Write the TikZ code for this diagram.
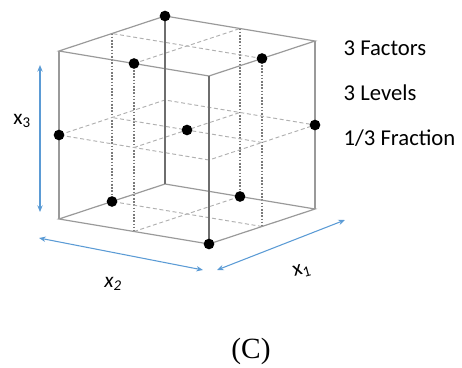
\documentclass[tikz,border=0pt]{standalone}
\usepackage{fontspec}
\setmainfont{Liberation Serif}
\newfontfamily\calibri{Carlito}
\usetikzlibrary{calc,arrows.meta}
\definecolor{EdgeGray}{HTML}{9A9A9A}
\definecolor{FrontGray}{HTML}{6E6E6E}
\definecolor{GridGray}{HTML}{B0B0B0}
\definecolor{PostGray}{HTML}{7A7A7A}
\definecolor{AxisBlue}{HTML}{5B9BD5}

\begin{document}
\begin{tikzpicture}[x=0.75pt,y=-0.75pt,
    edge/.style={EdgeGray, line width=0.9pt},
    gridline/.style={GridGray, dashed, dash pattern=on 3pt off 2pt, line width=0.7pt},
    postline/.style={PostGray, dash pattern=on 1.2pt off 1.2pt, line width=0.8pt},
    run/.style={circle, fill=black, inner sep=0pt, minimum size=8pt},
    axis/.style={AxisBlue, line width=0.8pt, {Stealth[length=5pt,width=4pt]}-{Stealth[length=5pt,width=4pt]}},
    note/.style={anchor=west, font=\calibri\fontsize{17}{19}\selectfont}]
    % =========================================
    % 1. 画布与立方体顶点
    % =========================================
    \useasboundingbox (0,0) rectangle (462,368);

    % 底面四角
    \coordinate (FB) at (209,244);
    \coordinate (LB) at (59,219);
    \coordinate (RB) at (315,209);
    \coordinate (BB) at (165,184);
    % 顶面四角
    \coordinate (FT) at ($(FB)+(0,-168)$);
    \coordinate (LT) at ($(LB)+(0,-168)$);
    \coordinate (RT) at ($(RB)+(0,-168)$);
    \coordinate (BT) at ($(BB)+(0,-168)$);
    % 中间层
    \coordinate (FM) at ($(FB)!0.5!(FT)$);
    \coordinate (LM) at ($(LB)!0.5!(LT)$);
    \coordinate (RM) at ($(RB)!0.5!(RT)$);
    \coordinate (BM) at ($(BB)!0.5!(BT)$);

    % 各层棱中点 (T=顶, M=中, B=底)
    \foreach \lv in {T,M,B} {
        \coordinate (\lv FL) at ($(F\lv)!0.5!(L\lv)$);
        \coordinate (\lv FR) at ($(F\lv)!0.5!(R\lv)$);
        \coordinate (\lv BL) at ($(B\lv)!0.5!(L\lv)$);
        \coordinate (\lv BR) at ($(B\lv)!0.5!(R\lv)$);
    }
    \coordinate (Center) at ($(MFL)!0.5!(MBR)$);

    % =========================================
    % 2. 内部虚线网格
    % =========================================
    % 竖直点线
    \draw[postline] (TFL) -- (BFL);
    \draw[postline] (TFR) -- (BFR);
    \draw[postline] (TBL) -- (BBL);
    \draw[postline] (TBR) -- (BBR);

    % 三层的十字线
    \foreach \lv in {T,M,B} {
        \draw[gridline] (\lv FL) -- (\lv BR);
        \draw[gridline] (\lv FR) -- (\lv BL);
    }
    % 中间层外框
    \draw[gridline] (FM) -- (LM) -- (BM) -- (RM) -- cycle;

    % =========================================
    % 3. 立方体棱
    % =========================================
    \draw[edge] (FT) -- (LT) -- (BT) -- (RT) -- cycle;
    \draw[edge] (FB) -- (LB) -- (BB) -- (RB) -- cycle;
    \draw[edge] (LB) -- (LT);
    \draw[edge] (RB) -- (RT);
    \draw[FrontGray, line width=1.2pt] (BB) -- (BT);
    \draw[FrontGray, line width=1.3pt] (FB) -- (FT);

    % =========================================
    % 4. 九个试验点
    % =========================================
    \node[run] (r1) at (BT) {};
    \node[run] (r2) at (TFL) {};
    \node[run] (r3) at (TFR) {};
    \node[run] (r4) at (LM) {};
    \node[run] (r5) at (Center) {};
    \node[run] (r6) at (RM) {};
    \node[run] (r7) at (BBL) {};
    \node[run] (r8) at (BBR) {};
    \node[run] (r9) at (FB) {};

    % =========================================
    % 5. 坐标轴箭头与标签
    % =========================================
    \coordinate (x3top) at (40,65);
    \coordinate (x3bot) at (40,212);
    \coordinate (x2left) at (39,238);
    \coordinate (x2right) at (203,270);
    \coordinate (x1left) at (217,270);
    \coordinate (x1right) at (345,220);
    \draw[axis] (x3top) -- (x3bot);
    \draw[axis] (x2left) -- (x2right);
    \draw[axis] (x1left) -- (x1right);

    \node[font=\calibri\fontsize{16}{18}\selectfont] (lx3) at (22,121) {x\textsubscript{3}};
    \node[font=\calibri\itshape\fontsize{16}{18}\selectfont] (lx2) at (113,284) {x\textsubscript{2}};
    \node[font=\calibri\fontsize{16}{18}\selectfont, rotate=15] (lx1) at (302,271) {x\textsubscript{1}};

    % 右侧说明文字
    \node[note] (n1) at (339,48) {3 Factors};
    \node[note] (n2) at (339,93) {3 Levels};
    \node[note] (n3) at (339,138) {1/3 Fraction};

    % 图号
    \node[font=\fontsize{22}{24}\selectfont] (cap) at (251,351) {(C)};
\end{tikzpicture}
\end{document}
